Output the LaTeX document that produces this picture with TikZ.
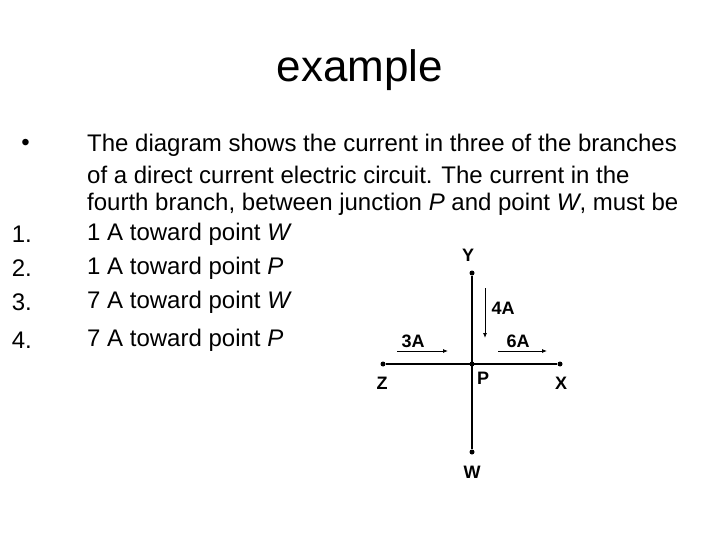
\documentclass[tikz,border=0pt]{standalone}
\usepackage{fontspec}
\setmainfont{Liberation Sans}
\usetikzlibrary{arrows.meta}
\begin{document}
\begin{tikzpicture}[x=1pt,y=-1pt,
  txt/.style={anchor=west,inner sep=0pt,font=\fontsize{24}{28}\selectfont},
  num/.style={anchor=east,inner sep=0pt,font=\fontsize{24}{28}\selectfont},
  dot/.style={circle,fill,inner sep=0pt,minimum size=5pt},
  lbl/.style={inner sep=0pt,font=\fontsize{18}{20}\selectfont\bfseries},
  wire/.style={line width=1.2pt},
  cur/.style={line width=0.8pt,-{Latex[length=5pt,width=4pt]}}]
\useasboundingbox (0,0) rectangle (720,540);
\node[inner sep=0pt,font=\fontsize{44}{48}\selectfont] (title) at (360,70) {example};
\node[num] (b) at (30,145) {\textbullet};
\node[txt] (t1) at (87,145) {The diagram shows the current in three of the branches};
\node[txt] (t2) at (87,175) {of a direct current electric circuit. The current in the};
\node[txt] (t3) at (87,204) {fourth branch, between junction \textit{P} and point \textit{W}, must be};
\node[num] (n1) at (32,234) {1.};
\node[txt] (a1) at (87,234) {1 A toward point \textit{W}};
\node[num] (n2) at (32,268) {2.};
\node[txt] (a2) at (87,268) {1 A toward point \textit{P}};
\node[num] (n3) at (32,302) {3.};
\node[txt] (a3) at (87,302) {7 A toward point \textit{W}};
\node[num] (n4) at (32,340) {4.};
\node[txt] (a4) at (87,340) {7 A toward point \textit{P}};
% circuit
\node[dot] (P) at (472,364) {};
\node[dot] (Y) at (472,273) {};
\node[dot] (Z) at (383,364) {};
\node[dot] (X) at (560,364) {};
\node[dot] (W) at (472,452) {};
\draw[wire] (Z) -- (X);
\draw[wire] (Y) -- (W);
\node[lbl] (lY) at (468,255) {Y};
\node[lbl] (lW) at (472,472) {W};
\node[lbl] (lZ) at (382,383) {Z};
\node[lbl] (lX) at (561,383) {X};
\node[lbl] (lP) at (483,378) {P};
\coordinate (a3s) at (397,351); \coordinate (a3e) at (448,351);
\coordinate (a4s) at (485,288); \coordinate (a4e) at (485,338);
\coordinate (a6s) at (498,351); \coordinate (a6e) at (547,351);
\draw[cur] (a3s) -- (a3e);
\draw[cur] (a4s) -- (a4e);
\draw[cur] (a6s) -- (a6e);
\node[lbl] (l3) at (413,341) {3A};
\node[lbl] (l4) at (503,308) {4A};
\node[lbl] (l6) at (518,341) {6A};
\end{tikzpicture}
\end{document}
